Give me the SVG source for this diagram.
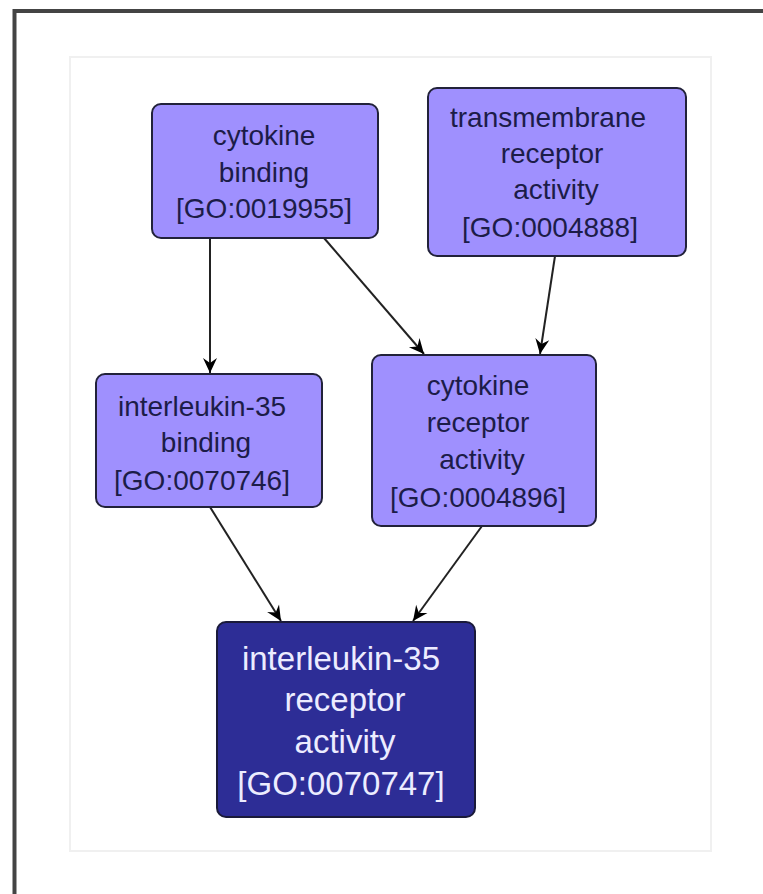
<svg xmlns="http://www.w3.org/2000/svg" width="763" height="894" viewBox="0 0 763 894">
<style>
.frame{fill:none;stroke:#444;stroke-width:4}
.panel{fill:#fff;stroke:#f0f0f0;stroke-width:2}
.n rect{fill:#9f90fe;stroke:#22223a;stroke-width:2}
.n text{font-family:"Liberation Sans",Arial,sans-serif;font-size:28px;fill:#1c1c48;text-anchor:middle}
.d rect{fill:#2d2d96;stroke:#1a1a3a;stroke-width:2}
.d text{font-family:"Liberation Sans",Arial,sans-serif;font-size:33px;fill:#ececff;text-anchor:middle}
.e{stroke:#222;stroke-width:2;fill:none;marker-end:url(#ah)}
</style>
<defs>
<marker id="ah" viewBox="-16 -8 17 16" refX="0" refY="0" markerWidth="17" markerHeight="16" markerUnits="userSpaceOnUse" orient="auto">
<path d="M0,0 L-15,-7 L-10,0 L-15,7 Z" fill="#000"/>
</marker>
</defs>
<rect width="763" height="894" fill="#fff"/>
<path class="frame" d="M14.5,896 V11 H765"/>
<rect class="panel" x="70" y="57" width="641" height="794"/>
<g id="connectors">
<line class="e" x1="210" y1="238" x2="210" y2="373"/>
<line class="e" x1="324" y1="238" x2="424" y2="354"/>
<line class="e" x1="555" y1="256" x2="540" y2="354"/>
<line class="e" x1="210" y1="507" x2="281" y2="621"/>
<line class="e" x1="482" y1="526" x2="413" y2="621"/>
</g>
<g id="cytokine_binding" class="n">
<rect x="152" y="104" width="226" height="134" rx="9"/>
<text x="264" y="145">cytokine</text>
<text x="264" y="182">binding</text>
<text x="264" y="218">[GO:0019955]</text>
</g>
<g id="transmembrane_receptor_activity" class="n">
<rect x="428" y="88" width="258" height="168" rx="9"/>
<text x="548" y="127">transmembrane</text>
<text x="552" y="163">receptor</text>
<text x="556" y="199">activity</text>
<text x="550" y="237">[GO:0004888]</text>
</g>
<g id="interleukin35_binding" class="n">
<rect x="96" y="374" width="226" height="133" rx="9"/>
<text x="202" y="416">interleukin-35</text>
<text x="206" y="452">binding</text>
<text x="202" y="490">[GO:0070746]</text>
</g>
<g id="cytokine_receptor_activity" class="n">
<rect x="372" y="355" width="224" height="171" rx="9"/>
<text x="478" y="395">cytokine</text>
<text x="478" y="432">receptor</text>
<text x="482" y="469">activity</text>
<text x="478" y="507">[GO:0004896]</text>
</g>
<g id="interleukin35_receptor_activity" class="d">
<rect x="217" y="622" width="258" height="195" rx="9"/>
<text x="341" y="670">interleukin-35</text>
<text x="345" y="711">receptor</text>
<text x="345" y="753">activity</text>
<text x="341" y="795">[GO:0070747]</text>
</g>
</svg>
